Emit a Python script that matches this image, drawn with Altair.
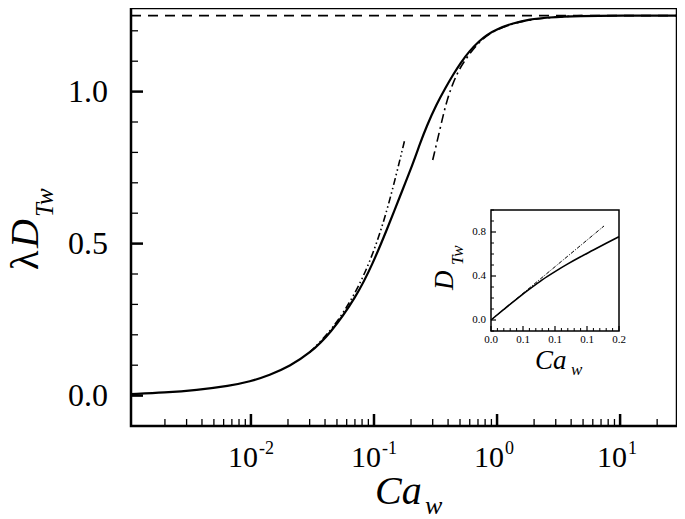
import altair as alt
import pandas as pd

# ---------------- data ----------------
# main solid curve (Ca_w, lambda*D_Tw)
curve_ca = [0.00106, 0.002, 0.0036, 0.0067, 0.0098, 0.0142, 0.0207, 0.030, 0.044,
            0.072, 0.098, 0.127, 0.162, 0.208, 0.236, 0.267, 0.322, 0.38, 0.44,
            0.50, 0.60, 0.72, 0.82, 0.99, 1.35, 1.85, 2.53, 4.7, 10.0, 29.0]
curve_d = [0.005, 0.010, 0.018, 0.032, 0.046, 0.067, 0.097, 0.139, 0.203,
           0.325, 0.435, 0.545, 0.654, 0.764, 0.828, 0.885, 0.958, 1.012, 1.056,
           1.092, 1.135, 1.167, 1.186, 1.205, 1.225, 1.238, 1.244, 1.249, 1.25, 1.25]

# small-Ca asymptote (dash-dot-dot)
low_ca = [0.030, 0.0466, 0.0721, 0.0984, 0.130, 0.178]
low_d = [0.142, 0.220, 0.341, 0.465, 0.615, 0.842]

# large-Ca asymptote (dash-dot)
high_ca = [0.300, 0.343, 0.389, 0.469, 0.565, 0.724, 0.875, 1.1, 1.5, 2.5, 5.0]
high_d = [0.775, 0.874, 0.972, 1.060, 1.112, 1.166, 1.192, 1.212, 1.230, 1.244, 1.25]

# plateau (dashed)
plateau_ca = [0.00106, 29.0]
plateau_d = [1.25, 1.25]

# inset curves
inset_ca = [0.0, 0.02, 0.04, 0.06, 0.08, 0.10, 0.12, 0.14, 0.16, 0.18, 0.20]
inset_d = [0.0, 0.096, 0.190, 0.280, 0.365, 0.440, 0.510, 0.575, 0.636, 0.698, 0.758]
inset_lin_ca = [0.0, 0.1766]
inset_lin_d = [0.0, 0.855]

# ticks / labels
x_major = [0.01, 0.1, 1.0, 10.0]
x_exp = ["-2", "-1", "0", "1"]
x_minor = [0.002, 0.003, 0.004, 0.005, 0.006, 0.007, 0.008, 0.009,
           0.02, 0.03, 0.04, 0.05, 0.06, 0.07, 0.08, 0.09,
           0.2, 0.3, 0.4, 0.5, 0.6, 0.7, 0.8, 0.9,
           2.0, 3.0, 4.0, 5.0, 6.0, 7.0, 8.0, 9.0, 20.0]
y_major = [0.0, 0.5, 1.0]
y_labels = ["0.0", "0.5", "1.0"]
y_minor = [0.1, 0.2, 0.3, 0.4, 0.6, 0.7, 0.8, 0.9, 1.1, 1.2]

ix_major = [0.0, 0.05, 0.10, 0.15, 0.20]
ix_labels = ["0.0", "0.1", "0.1", "0.1", "0.2"]
ix_minor = [0.01, 0.02, 0.03, 0.04, 0.06, 0.07, 0.08, 0.09,
            0.11, 0.12, 0.13, 0.14, 0.16, 0.17, 0.18, 0.19]
iy_major = [0.0, 0.4, 0.8]
iy_labels = ["0.0", "0.4", "0.8"]
iy_minor = [-0.1, 0.1, 0.2, 0.3, 0.5, 0.6, 0.7, 0.9, 1.0]

# ---------------- geometry ----------------
W, H = 546, 418
FONT = "Liberation Serif"

xs = alt.Scale(type="log", domain=[0.00106, 29.0], nice=False)
ys = alt.Scale(domain=[-0.1, 1.275], nice=False, zero=False)
ixs = alt.Scale(domain=[0.0, 0.2], range=[360, 488], nice=False, zero=False)
iys = alt.Scale(domain=[-0.1, 1.0], range=[323, 202], nice=False, zero=False)


def X(f, s):
    return alt.X(f, type="quantitative", scale=s, axis=None)


def Y(f, s):
    return alt.Y(f, type="quantitative", scale=s, axis=None)


def line(xv, yv, xsc, ysc, width, dash=None, interp="basis"):
    df = pd.DataFrame({"x": xv, "y": yv})
    kw = dict(color="black", strokeWidth=width, interpolate=interp, clip=True)
    if dash:
        kw["strokeDash"] = dash
    return alt.Chart(df).mark_line(**kw).encode(x=X("x", xsc), y=Y("y", ysc))


def text_at(t, x, y, size, italic=False, angle=0, align="left"):
    df = pd.DataFrame({"t": [t]})
    return alt.Chart(df).mark_text(
        font=FONT, fontSize=size, fontStyle="italic" if italic else "normal",
        angle=angle, align=align, baseline="alphabetic", color="black"
    ).encode(text="t:N", x=alt.value(x), y=alt.value(y))


# ---------------- main panel ----------------
solid = line(curve_ca, curve_d, xs, ys, 2.2)
low = line(low_ca, low_d, xs, ys, 1.6, [7, 3, 1.5, 3, 1.5, 3])
high = line(high_ca, high_d, xs, ys, 1.6, [9, 4, 2, 4])
plat = alt.Chart(pd.DataFrame({"x": plateau_ca, "y": plateau_d})).mark_line(
    color="black", strokeWidth=1.8, strokeDash=[10, 7]).encode(x=X("x", xs), y=Y("y", ys))

xmaj = alt.Chart(pd.DataFrame({"v": x_major})).mark_rule(color="black", strokeWidth=2.5).encode(
    x=X("v", xs), y=alt.value(H), y2=alt.value(H - 12))
xmin = alt.Chart(pd.DataFrame({"v": x_minor})).mark_rule(color="black", strokeWidth=1.3).encode(
    x=X("v", xs), y=alt.value(H), y2=alt.value(H - 7))
ymaj = alt.Chart(pd.DataFrame({"v": y_major})).mark_rule(color="black", strokeWidth=2.5).encode(
    y=Y("v", ys), x=alt.value(0), x2=alt.value(12))
ymin = alt.Chart(pd.DataFrame({"v": y_minor})).mark_rule(color="black", strokeWidth=1.3).encode(
    y=Y("v", ys), x=alt.value(0), x2=alt.value(7))

xlab_df = pd.DataFrame({"v": x_major, "e": x_exp, "b": ["10"] * len(x_major)})
xlab = alt.Chart(xlab_df).mark_text(font=FONT, fontSize=30, align="right", baseline="alphabetic",
                                    dx=7, color="black").encode(
    x=X("v", xs), y=alt.value(459), text="b:N")
xexp = alt.Chart(xlab_df).mark_text(font=FONT, fontSize=18, align="left", baseline="alphabetic",
                                    dx=8, color="black").encode(
    x=X("v", xs), y=alt.value(446), text="e:N")
ylab = alt.Chart(pd.DataFrame({"v": y_major, "t": y_labels})).mark_text(
    font=FONT, fontSize=32, align="right", baseline="middle", color="black").encode(
    y=Y("v", ys), x=alt.value(-23), text="t:N")

titles = [
    text_at("Ca", 244, 496, 40, italic=True),
    text_at("w", 294, 506, 26, italic=True),
    text_at("λ", -93, 262, 40, angle=270),
    text_at("D", -93, 240, 40, italic=True, angle=270),
    text_at("Tw", -78, 209, 25, italic=True, angle=270),
]

main = alt.layer(plat, solid, low, high, xmaj, xmin, ymaj, ymin, xlab, xexp, ylab, *titles)

# ---------------- inset ----------------
box = alt.Chart(pd.DataFrame({"x0": [0.0], "x1": [0.2], "y0": [-0.1], "y1": [1.0]})).mark_rect(
    fill="white", stroke="black", strokeWidth=1.5).encode(
    x=X("x0", ixs), x2="x1", y=Y("y0", iys), y2="y1")
isolid = line(inset_ca, inset_d, ixs, iys, 1.6, interp="monotone")
ilin = line(inset_lin_ca, inset_lin_d, ixs, iys, 1.0, [4, 1.5, 1, 1.5], interp="linear")

ixmaj = alt.Chart(pd.DataFrame({"v": ix_major})).mark_rule(color="black", strokeWidth=1.2).encode(
    x=X("v", ixs), y=alt.value(323), y2=alt.value(318))
ixmin = alt.Chart(pd.DataFrame({"v": ix_minor})).mark_rule(color="black", strokeWidth=1).encode(
    x=X("v", ixs), y=alt.value(323), y2=alt.value(320))
iymaj = alt.Chart(pd.DataFrame({"v": iy_major})).mark_rule(color="black", strokeWidth=1.2).encode(
    y=Y("v", iys), x=alt.value(360), x2=alt.value(365))
iymin = alt.Chart(pd.DataFrame({"v": iy_minor})).mark_rule(color="black", strokeWidth=1).encode(
    y=Y("v", iys), x=alt.value(360), x2=alt.value(363))
ixlab = alt.Chart(pd.DataFrame({"v": ix_major, "t": ix_labels})).mark_text(
    font=FONT, fontSize=11, align="center", baseline="alphabetic", color="black").encode(
    x=X("v", ixs), y=alt.value(335), text="t:N")
iylab = alt.Chart(pd.DataFrame({"v": iy_major, "t": iy_labels})).mark_text(
    font=FONT, fontSize=11, align="right", baseline="middle", color="black").encode(
    y=Y("v", iys), x=alt.value(355), text="t:N")

ititles = [
    text_at("Ca", 404, 361, 27, italic=True),
    text_at("w", 440, 367, 17, italic=True),
    text_at("D", 322, 282, 27, italic=True, angle=270),
    text_at("Tw", 332, 257, 17, italic=True, angle=270),
]

inset = alt.layer(box, isolid, ilin, ixmaj, ixmin, iymaj, iymin, ixlab, iylab, *ititles)

chart = alt.layer(main, inset).resolve_scale(x="independent", y="independent").properties(
    width=W, height=H,
    autosize=alt.AutoSizeParams(type="none"),
    padding={"left": 123, "top": 0, "right": 0, "bottom": 93},
    background="white",
).configure_view(stroke="black", strokeWidth=2.5)

chart.save("out.html", embed_options={"renderer": "svg", "actions": False})
